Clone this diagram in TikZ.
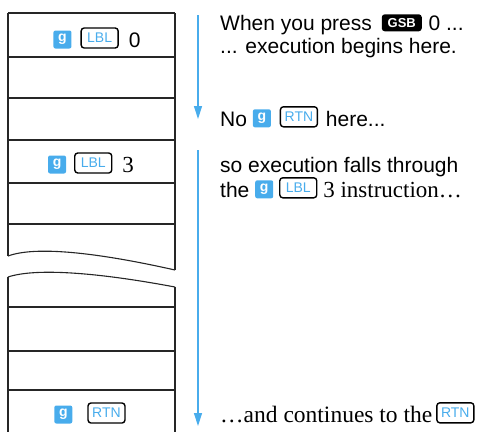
\documentclass[tikz,border=0pt]{standalone}
\usepackage{fontspec}
\setmainfont{Liberation Serif}
\setsansfont{Liberation Sans}
\usetikzlibrary{arrows.meta,positioning}
\definecolor{keyblue}{RGB}{72,172,236}
\tikzset{
  memline/.style={line width=1.1pt, black!85},
  flow/.style={keyblue, line width=1.3pt, -{Triangle[length=13pt,width=8pt]}},
  gkey/.style={fill=keyblue, rounded corners=2pt, minimum width=18pt, minimum height=18pt, inner sep=0pt, text=white, font=\sffamily\bfseries\fontsize{14}{14}\selectfont},
  fnkey/.style={draw=black, line width=1.4pt, rounded corners=3pt, minimum width=37pt, minimum height=20pt, inner sep=0pt, text=keyblue, font=\sffamily\fontsize{14}{14}\selectfont},
  gsbkey/.style={fill=black, rounded corners=3pt, minimum width=40pt, minimum height=17pt, inner sep=0pt, text=white, font=\sffamily\bfseries\fontsize{13}{13}\selectfont},
  rowtext/.style={inner sep=0pt, font=\sffamily\fontsize{21}{24}\selectfont},
  note/.style={anchor=base west, inner sep=0pt, font=\sffamily\fontsize{21}{24}\selectfont},
}
\newcommand{\hpkey}[2]{\tikz[baseline={([yshift=1.5pt]k.south)}]\node[#1] (k) {#2};}
\begin{document}
\begin{tikzpicture}[x=1pt, y=-1pt]
\useasboundingbox (0,0) rectangle (486,432);
% program memory
\foreach \y in {13,57,98,140,183,224,307,351,390}
  \draw[memline] (8,\y) -- (175,\y);
\draw[memline] (8,13) -- (8,256);
\draw[memline] (175,13) -- (175,270);
\draw[memline] (8,277) -- (8,432);
\draw[memline] (175,287) -- (175,432);
\draw[memline] (8,256) .. controls (35,246) and (95,252) .. (175,270);
\draw[memline] (8,277) .. controls (35,268) and (95,272) .. (175,287);
% program steps
\node[rowtext] (lbl0) at (97,38) {\hpkey{gkey}{g}\hspace{9pt}\hpkey{fnkey}{LBL}\hspace{10pt}0};
\node[rowtext] (lbl3) at (91,163) {\hpkey{gkey}{g}\hspace{8pt}\hpkey{fnkey}{LBL}\hspace{10pt}{\rmfamily\fontsize{23}{24}\selectfont 3}};
\node[rowtext] (rtn) at (90,413) {\hpkey{gkey}{g}\hspace{15pt}\hpkey{fnkey}{RTN}};
% execution flow
\coordinate (run1s) at (198,15);
\coordinate (run1e) at (198,119);
\coordinate (run2s) at (198,150);
\coordinate (run2e) at (198,426);
\draw[flow] (run1s) -- (run1e);
\draw[flow] (run2s) -- (run2e);
% notes
\node[note] (t1) at (220,30) {When you press\hspace{4pt} \hpkey{gsbkey}{GSB}\hspace{1pt} 0 ...};
\node[note] (t2) at (220,53) {... execution begins here.};
\node[note] (t3) at (220,126) {No \hpkey{gkey}{g}\hspace{3pt} \hpkey{fnkey}{RTN}\hspace{2pt} here...};
\node[note] (t4) at (220,172) {so execution falls through};
\node[note] (t5) at (220,197) {the \hpkey{gkey}{g} \hpkey{fnkey}{LBL} {\rmfamily\fontsize{23}{24}\selectfont 3 instruction\ldots}};
\node[note] (t6) at (220,422) {{\rmfamily\fontsize{23.5}{26}\selectfont\ldots and continues to the}\hspace{-2pt} \hpkey{fnkey}{RTN}};
\end{tikzpicture}
\end{document}
